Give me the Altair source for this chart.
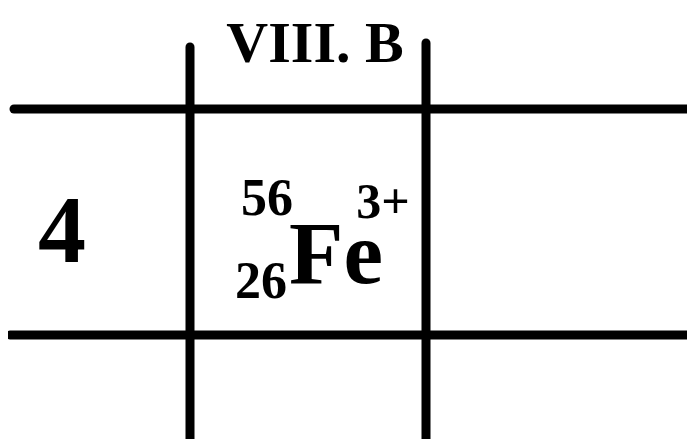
import altair as alt
import pandas as pd

# Grid lines (reference pixel coordinates)
h_y = [109, 335]
h_x_start = [14, 10]
h_x_end = [692, 700]

v_x = [190, 426]
v_y_start = [47, 43]
v_y_end = [452, 443]

# Text labels
labels = ["VIII. B", "4", "56", "26", "Fe", "3+"]
label_x = [315, 62, 267, 261, 336, 383]
label_y = [62, 262, 215, 298, 283, 218]
label_size = [58, 96, 52, 52, 89, 50]

W, H = 679, 431
xs = alt.Scale(domain=[8, 8 + W], nice=False, zero=False)
ys = alt.Scale(domain=[8, 8 + H], nice=False, zero=False, reverse=True)

hdf = pd.DataFrame({"y": h_y, "x": h_x_start, "x2": h_x_end})
vdf = pd.DataFrame({"x": v_x, "y": v_y_start, "y2": v_y_end})
tdf = pd.DataFrame({"label": labels, "x": label_x, "y": label_y, "size": label_size})

hlines = alt.Chart(hdf).mark_rule(color="black", strokeWidth=9, strokeCap="round").encode(
    x=alt.X("x:Q", scale=xs, axis=None),
    x2="x2:Q",
    y=alt.Y("y:Q", scale=ys, axis=None),
)
vlines = alt.Chart(vdf).mark_rule(color="black", strokeWidth=9, strokeCap="round").encode(
    x=alt.X("x:Q", scale=xs, axis=None),
    y=alt.Y("y:Q", scale=ys, axis=None),
    y2="y2:Q",
)
texts = alt.Chart(tdf).mark_text(
    font="Liberation Serif", fontWeight="bold", color="black",
    align="center", baseline="alphabetic"
).encode(
    x=alt.X("x:Q", scale=xs, axis=None),
    y=alt.Y("y:Q", scale=ys, axis=None),
    text="label:N",
    size=alt.Size("size:Q", scale=None, legend=None),
)

chart = alt.layer(hlines, vlines, texts).properties(
    width=W, height=H, padding=0, autosize="none", background="white"
).configure_view(stroke=None)

chart.save("out.html", embed_options={"renderer": "svg", "actions": False})
